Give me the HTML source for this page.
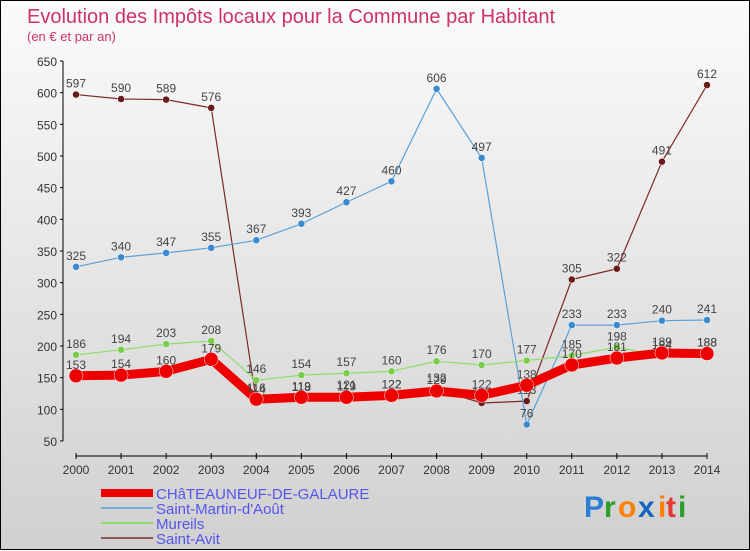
<!DOCTYPE html>
<html><head><meta charset="utf-8"><style>
html,body{margin:0;padding:0}
body{width:750px;height:550px;overflow:hidden;font-family:"Liberation Sans",sans-serif}
#wrap{position:relative;width:748px;height:548px;border:1px solid #000;background:linear-gradient(#fbfbfb,#d0d0d0)}
svg{position:absolute;left:0;top:0}
</style></head><body>
<div id="wrap">
<svg id="chart" width="750" height="550">
<text x="26" y="22" font-size="20" fill="#cc3366">Evolution des Impôts locaux pour la Commune par Habitant</text>
<text x="26" y="40" font-size="13" fill="#cc3366">(en € et par an)</text>
<g id="legend"></g>
<g font-size="30" font-weight="bold">
<text x="583" y="516" fill="#2a7fd4">P</text><text x="603" y="516" fill="#2a9f2a">r</text><text x="617" y="516" fill="#ff7f00">o</text><text x="637" y="516" fill="#1565c0">x</text><text x="657" y="516" fill="#ff7f00">i</text><text x="665" y="516" fill="#e53935">t</text><text x="677" y="516" fill="#2a9f2a">i</text>
</g>
</svg>
</div>
<script>
const years=[2000,2001,2002,2003,2004,2005,2006,2007,2008,2009,2010,2011,2012,2013,2014];
const chateauneuf=[153,154,160,179,116,119,119,122,129,122,138,170,181,189,188];
const saintMartin=[325,340,347,355,367,393,427,460,606,497,76,233,233,240,241];
const mureils=[186,194,203,208,146,154,157,160,176,170,177,185,198,184,188];
const saintAvit=[597,590,589,576,114,118,121,122,132,110,113,305,322,491,612];
const yTicks=[50,100,150,200,250,300,350,400,450,500,550,600,650];
const NS='http://www.w3.org/2000/svg';
const svg=document.getElementById('chart');
const X=i=>75+i*(706-75)/(years.length-1);
const Y=v=>440-(v-50)*(380/600);
function mk(t,a,p){const e=document.createElementNS(NS,t);for(const k in a)e.setAttribute(k,a[k]);(p||svg).appendChild(e);return e;}
// axes
let ax=mk('line',{x1:62,y1:Y(650),x2:62,y2:440,stroke:'#000'});


let bx=mk('line',{x1:75,y1:455,x2:706,y2:455,stroke:'#000'});


yTicks.forEach(v=>{
 mk('line',{x1:59,y1:Y(v),x2:62,y2:Y(v),stroke:'#000'});
 const t=mk('text',{x:56,y:Y(v)+5,'text-anchor':'end','font-size':12,fill:'#333'});t.textContent=v;
 
 
});
years.forEach((y,i)=>{
 mk('line',{x1:X(i),y1:452,x2:X(i),y2:458,stroke:'#000'});
 const t=mk('text',{x:X(i),y:473,'text-anchor':'middle','font-size':12,fill:'#333'});t.textContent=y;
 
 
});
const series=[
 {n:'saint-avit',d:saintAvit,c:'#7b2a2a',w:1.2,r:3.5,f:'#6b1a1a'},
 {n:'saint-martin',d:saintMartin,c:'#5aa0d8',w:1.2,r:3.5,f:'#3a8ad0'},
 {n:'mureils',d:mureils,c:'#8edc6a',w:1.2,r:3.5,f:'#7acc4a'},
 {n:'chateauneuf',d:chateauneuf,c:'#ee0000',w:9,r:7,f:'#ee0000'}
];
series.forEach(s=>{
 const g=mk('g',{});
 
 
 const l=mk('polyline',{points:s.d.map((v,i)=>X(i)+','+Y(v)).join(' '),fill:'none',stroke:s.c,'stroke-width':s.w,'stroke-linejoin':'round'},g);
 
 
 s.d.forEach((v,i)=>{
  const p=mk('circle',{cx:X(i),cy:Y(v),r:s.r,fill:s.f,stroke:'#fff','stroke-width':0.5},g);
  
  
  const t=mk('text',{x:X(i),y:Y(v)-7,'text-anchor':'middle','font-size':12,fill:'#444'},g);t.textContent=v;
  
  
 });
});
const leg=document.getElementById('legend');
[['CHâTEAUNEUF-DE-GALAURE','#ee0000',8],['Saint-Martin-d\'Août','#7aaed8',2],['Mureils','#8edc6a',2],['Saint-Avit','#8a5555',2]].forEach((e,i)=>{
 const y=492+i*15;
 const g=mk('g',{},leg);
 
 
 mk('line',{x1:100,y1:y,x2:152,y2:y,stroke:e[1],'stroke-width':e[2]},g);
 const t=mk('text',{x:155,y:y+6,'font-size':15,fill:'#5555ee'},g);t.textContent=e[0];
});
</script>
</body></html>
